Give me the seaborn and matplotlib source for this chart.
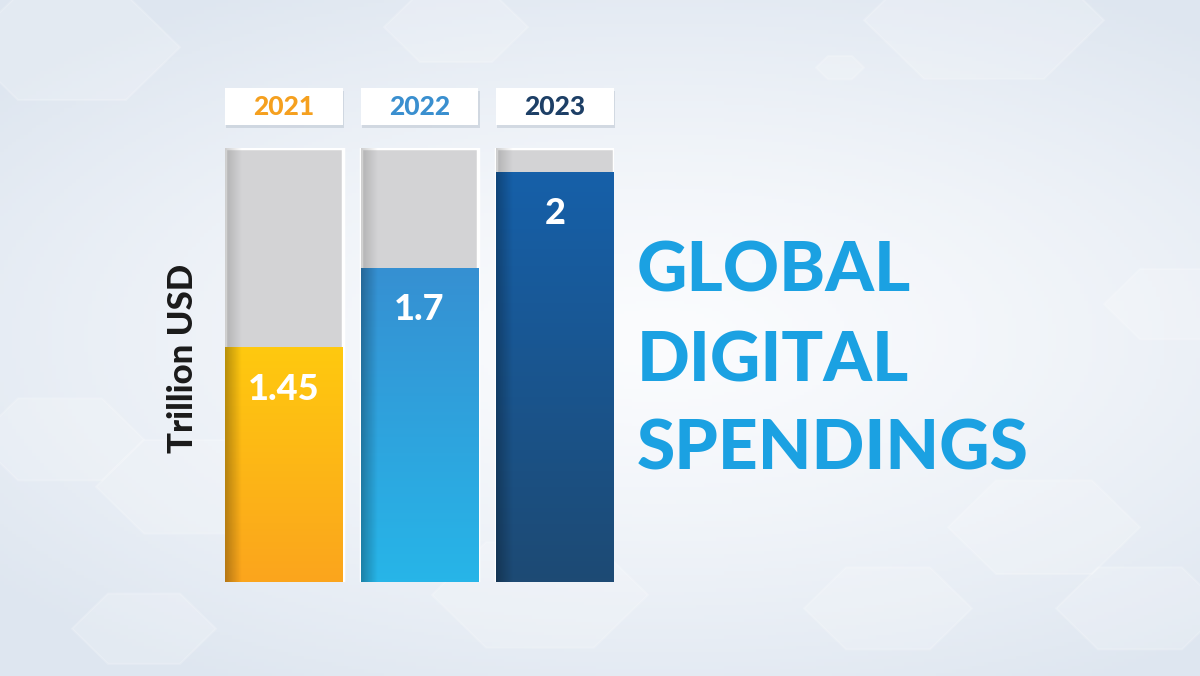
import numpy as np
import pandas as pd
import matplotlib
matplotlib.use("Agg")
import matplotlib.pyplot as plt
import matplotlib.colors as mcolors
from matplotlib.patches import Rectangle, RegularPolygon
import matplotlib.transforms as mtransforms
import seaborn as sns

# ---- data ----
years = ["2021", "2022", "2023"]
values = [1.45, 1.7, 2.0]
value_labels = ["1.45", "1.7", "2"]
unit_label = "Trillion USD"
title_lines = ["GLOBAL", "DIGITAL", "SPENDINGS"]

# ---- style ----
year_colors = ["#F5A01F", "#3A8FCF", "#1D3F66"]
grad_top = ["#FFC90F", "#3690D2", "#1660A9"]
grad_bottom = ["#FBA51D", "#27B5E8", "#1D4A74"]
track_color = "#D3D3D5"
title_color = "#1BA1E2"
FONT = "Lato"
WEIGHT = "black"
Y_MIN, Y_MAX = 0.715, 2.075

sns.set_theme(style="white")
plt.rcParams["font.family"] = [FONT, "DejaVu Sans"]

fig = plt.figure(figsize=(12, 6.76), dpi=100)

# background gradient
bg = fig.add_axes([0, 0, 1, 1], zorder=-10)
yy, xx = np.mgrid[0:1:200j, 0:1:300j]
d = np.sqrt(((xx - 0.55) / 0.9) ** 2 + ((yy - 0.5) / 0.75) ** 2)
c_center = np.array(mcolors.to_rgb("#FBFCFE"))
c_edge = np.array(mcolors.to_rgb("#DEE6F0"))
t = np.clip(d / 0.8, 0, 1)[..., None] ** 1.3
img = c_center * (1 - t) + c_edge * t
bg.imshow(img, extent=[0, 1, 0, 1], aspect="auto", origin="lower")
hexes = [(0.06, 0.93, 0.09), (0.38, 0.96, 0.06), (0.82, 0.97, 0.10), (0.70, 0.90, 0.02),
         (0.05, 0.35, 0.07), (0.16, 0.28, 0.08), (0.12, 0.07, 0.06), (0.87, 0.22, 0.08),
         (0.95, 0.10, 0.07), (0.74, 0.10, 0.07), (0.45, 0.12, 0.09), (0.98, 0.55, 0.06)]
for hx, hy, r in hexes:
    bg.add_patch(RegularPolygon((hx, hy), 6, radius=r, orientation=np.pi / 6,
                                facecolor="#FFFFFF", alpha=0.18, edgecolor="#FFFFFF",
                                lw=1.5, transform=bg.transAxes))
bg.set_xlim(0, 1); bg.set_ylim(0, 1)
bg.axis("off")

# main axes
W, H = 1200, 676
ax = fig.add_axes([225 / W, (H - 582) / H, (614 - 225) / W, (582 - 148) / H])
ax.patch.set_alpha(0)

df = pd.DataFrame({"year": years, "value": values, "track": [Y_MAX] * len(years)})
bw = 0.87
sns.barplot(data=df, x="year", y="track", color=track_color, width=bw, ax=ax,
            saturation=1, edgecolor="white", linewidth=2.5, zorder=1)
n_track = len(ax.patches)
sns.barplot(data=df, x="year", y="value", hue="year", palette=grad_top, width=bw,
            ax=ax, saturation=1, legend=False, linewidth=0, zorder=2)
ax.set_xlim(-0.5 + (1 - bw) / 2, 2.5 - (1 - bw) / 2)
ax.set_ylim(Y_MIN, Y_MAX)
ax.set_autoscale_on(False)

patches = ax.patches
track_patches = patches[:n_track]
bar_patches = patches[n_track:]

# left shading on tracks
for p in track_patches:
    x0, w = p.get_x(), p.get_width()
    shade = np.zeros((2, 50, 4))
    shade[..., :3] = 0.45
    shade[..., 3] = np.linspace(0.35, 0, 50)[None, :]
    im = ax.imshow(shade, extent=[x0, x0 + w * 0.14, Y_MIN, Y_MAX], aspect="auto", zorder=1.5)
    im.set_clip_path(p)

# gradients on value bars
for i, p in enumerate(bar_patches):
    x0, w, h = p.get_x(), p.get_width(), p.get_height()
    top = np.array(mcolors.to_rgb(grad_top[i]))
    bot = np.array(mcolors.to_rgb(grad_bottom[i]))
    tt = np.linspace(0, 1, 100)[:, None]
    col = (top * (1 - tt) + bot * tt)[:, None, :].repeat(2, axis=1)
    im = ax.imshow(col, extent=[x0, x0 + w, Y_MIN, h], aspect="auto", origin="upper", zorder=2.5)
    im.set_clip_path(p)
    shade = np.zeros((2, 50, 4))
    shade[..., 3] = np.linspace(0.28, 0, 50)[None, :]
    im2 = ax.imshow(shade, extent=[x0, x0 + w * 0.14, Y_MIN, h], aspect="auto", zorder=2.6)
    im2.set_clip_path(p)
    ax.annotate(value_labels[i], (x0 + w / 2, h), xytext=(0, -30), textcoords="offset points",
                ha="center", va="center", color="white", fontsize=26, fontweight=WEIGHT,
                zorder=5)

ax.set_xlim(-0.5 + (1 - bw) / 2, 2.5 - (1 - bw) / 2)
ax.set_ylim(Y_MIN, Y_MAX)

# year label boxes
trans = mtransforms.blended_transform_factory(ax.transData, ax.transAxes)
for i, p in enumerate(track_patches):
    x0, w = p.get_x(), p.get_width()
    ax.add_patch(Rectangle((x0 + 0.01, 1.046), w, 0.085, transform=trans, clip_on=False,
                           facecolor="#B8C2CE", alpha=0.5, edgecolor="none", zorder=3))
    ax.add_patch(Rectangle((x0, 1.053), w, 0.085, transform=trans, clip_on=False,
                           facecolor="white", edgecolor="none", zorder=4))
    ax.text(x0 + w / 2, 1.0955, years[i], transform=trans, ha="center", va="center",
            color=year_colors[i], fontsize=19, fontweight=WEIGHT, zorder=5)

ax.set_xlabel("")
ax.set_ylabel("")
ax.set_xticks([]); ax.set_yticks([])
sns.despine(ax=ax, left=True, bottom=True)

# unit label
fig.text(183 / W, 1 - 358 / H, unit_label, rotation=90, ha="center", va="center",
         fontsize=25, fontweight=WEIGHT, color="#1A1A1A")

# title
for line, yb in zip(title_lines, [292, 381, 470]):
    fig.text(637 / W, 1 - yb / H, line, ha="left", va="baseline", fontsize=50,
             fontweight=WEIGHT, color=title_color)

fig.savefig("out.png", dpi=100)
